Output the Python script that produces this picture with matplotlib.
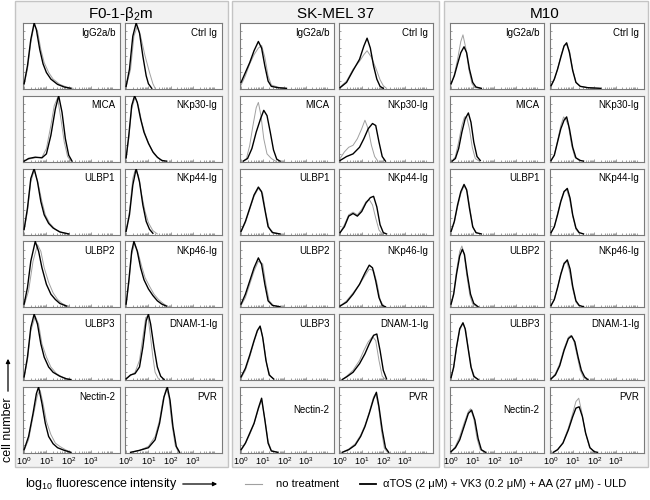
import matplotlib
matplotlib.use('Agg')
import matplotlib.pyplot as plt
from matplotlib.patches import Rectangle, FancyArrowPatch
from matplotlib.lines import Line2D
from matplotlib.ticker import FixedLocator, NullFormatter

plt.rcParams['font.family'] = ['Liberation Sans', 'DejaVu Sans']
plt.rcParams['mathtext.fontset'] = 'custom'
plt.rcParams['mathtext.rm'] = 'Liberation Sans'
plt.rcParams['mathtext.it'] = 'Liberation Sans:italic'

# ---------------- data ----------------
panel_titles = ["F0-1-β$_2$m", "SK-MEL 37", "M10"]
marker_labels = ["IgG2a/b", "Ctrl Ig", "MICA", "NKp30-Ig", "ULBP1", "NKp44-Ig",
                 "ULBP2", "NKp46-Ig", "ULBP3", "DNAM-1-Ig", "Nectin-2", "PVR"]
tick_labels = ["$10^{0}$", "$10^{1}$", "$10^{2}$", "$10^{3}$"]
tick_values = [1, 10, 100, 1000]
legend_labels = ["no treatment", "αTOS (2 μM) + VK3 (0.2 μM) + AA (27 μM) - ULD"]

# each curve: list of (log10 fluorescence, relative cell number)
F01_untreated = [
    [(0,0.06),(0.15,0.3),(0.3,0.7),(0.45,0.97),(0.6,0.88),(0.75,0.6),(0.9,0.4),(1.1,0.25),(1.3,0.15),(1.6,0.07),(1.9,0.03),(2.2,0.01)],
    [(0,0.03),(0.2,0.3),(0.35,0.8),(0.5,0.95),(0.65,0.8),(0.85,0.5),(1.05,0.25),(1.2,0.08),(1.3,0.01)],
    [(0,0.01),(0.2,0.04),(0.5,0.06),(0.8,0.07),(1.0,0.2),(1.2,0.55),(1.35,0.85),(1.5,0.97),(1.65,0.65),(1.8,0.3),(1.95,0.08),(2.1,0.01)],
    [(0,0.05),(0.12,0.35),(0.25,0.8),(0.4,0.98),(0.55,0.85),(0.7,0.6),(0.85,0.42),(1.05,0.25),(1.25,0.12),(1.45,0.05),(1.7,0.01)],
    [(0,0.06),(0.15,0.35),(0.3,0.8),(0.45,0.97),(0.6,0.82),(0.8,0.5),(0.95,0.3),(1.15,0.17),(1.4,0.08),(1.7,0.03),(2.0,0.01)],
    [(0,0.05),(0.15,0.35),(0.3,0.85),(0.4,0.97),(0.55,0.9),(0.7,0.6),(0.85,0.35),(1.0,0.18),(1.2,0.06),(1.4,0.01)],
    [(0,0.03),(0.2,0.25),(0.4,0.7),(0.6,0.95),(0.75,0.85),(0.9,0.6),(1.1,0.38),(1.3,0.22),(1.5,0.12),(1.7,0.06),(2.0,0.01)],
    [(0,0.04),(0.12,0.35),(0.25,0.8),(0.38,0.97),(0.52,0.85),(0.7,0.62),(0.85,0.45),(1.05,0.32),(1.25,0.2),(1.45,0.12),(1.7,0.05),(1.9,0.01)],
    [(0,0.04),(0.15,0.3),(0.3,0.75),(0.5,0.97),(0.65,0.85),(0.8,0.55),(1.0,0.35),(1.2,0.2),(1.45,0.1),(1.7,0.05),(2.0,0.01)],
    [(0,0.02),(0.2,0.07),(0.4,0.12),(0.6,0.3),(0.75,0.65),(0.88,0.95),(0.98,0.97),(1.08,0.7),(1.2,0.35),(1.3,0.12),(1.45,0.02)],
    [(0,0.04),(0.2,0.2),(0.4,0.55),(0.6,0.88),(0.72,0.95),(0.85,0.75),(1.0,0.48),(1.2,0.28),(1.4,0.15),(1.6,0.1),(1.85,0.05),(2.1,0.01)],
    [(0.2,0.01),(0.6,0.04),(1.0,0.1),(1.3,0.25),(1.5,0.5),(1.65,0.8),(1.8,0.98),(1.92,0.85),(2.05,0.45),(2.2,0.12),(2.35,0.01)],
]
F01_treated = [
    [(0,0.08),(0.15,0.35),(0.3,0.75),(0.45,1.0),(0.55,0.9),(0.7,0.6),(0.85,0.38),(1.0,0.25),(1.2,0.15),(1.5,0.07),(1.8,0.03),(2.1,0.01)],
    [(0,0.04),(0.15,0.3),(0.3,0.8),(0.45,1.0),(0.6,0.85),(0.75,0.5),(0.9,0.2),(1.0,0.08),(1.15,0.01)],
    [(0,0.01),(0.2,0.05),(0.5,0.07),(0.8,0.06),(1.0,0.12),(1.2,0.4),(1.4,0.8),(1.55,1.0),(1.7,0.75),(1.85,0.35),(2.0,0.1),(2.15,0.01)],
    [(0,0.06),(0.12,0.4),(0.25,0.85),(0.38,1.0),(0.5,0.9),(0.65,0.65),(0.8,0.45),(1.0,0.28),(1.2,0.15),(1.4,0.07),(1.6,0.02),(1.8,0.01)],
    [(0,0.08),(0.15,0.4),(0.3,0.85),(0.45,1.0),(0.6,0.8),(0.75,0.5),(0.9,0.3),(1.1,0.17),(1.3,0.1),(1.6,0.04),(2.0,0.01)],
    [(0,0.05),(0.15,0.3),(0.3,0.75),(0.45,1.0),(0.6,0.8),(0.75,0.45),(0.9,0.2),(1.05,0.08),(1.2,0.02)],
    [(0,0.05),(0.15,0.3),(0.3,0.7),(0.5,1.0),(0.65,0.85),(0.8,0.6),(1.0,0.35),(1.2,0.2),(1.4,0.12),(1.6,0.06),(1.9,0.02)],
    [(0,0.05),(0.12,0.4),(0.25,0.85),(0.35,1.0),(0.5,0.85),(0.65,0.6),(0.8,0.42),(1.0,0.28),(1.2,0.18),(1.4,0.1),(1.6,0.05),(1.8,0.02)],
    [(0,0.05),(0.15,0.35),(0.3,0.8),(0.45,1.0),(0.6,0.85),(0.75,0.55),(0.9,0.35),(1.1,0.2),(1.3,0.12),(1.6,0.06),(1.9,0.02),(2.1,0.01)],
    [(0,0.02),(0.2,0.08),(0.4,0.1),(0.6,0.2),(0.75,0.5),(0.9,0.9),(1.0,1.0),(1.1,0.85),(1.25,0.5),(1.4,0.2),(1.55,0.06),(1.7,0.01)],
    [(0,0.05),(0.2,0.25),(0.4,0.6),(0.55,0.9),(0.65,1.0),(0.8,0.75),(0.95,0.45),(1.1,0.25),(1.3,0.14),(1.5,0.08),(1.8,0.04),(2.1,0.01)],
    [(0.2,0.01),(0.6,0.04),(1.0,0.08),(1.3,0.2),(1.5,0.45),(1.7,0.85),(1.85,1.0),(1.97,0.8),(2.1,0.4),(2.25,0.1),(2.4,0.01)],
]
SKMEL_untreated = [
    [(0,0.06),(0.2,0.2),(0.4,0.38),(0.6,0.52),(0.8,0.62),(0.95,0.66),(1.1,0.48),(1.25,0.2),(1.4,0.06),(1.8,0.02),(2.1,0.01)],
    [(0,0.03),(0.3,0.12),(0.6,0.3),(0.9,0.42),(1.1,0.52),(1.25,0.58),(1.45,0.48),(1.65,0.32),(1.85,0.14),(2.0,0.05),(2.15,0.01)],
    [(0.1,0.01),(0.25,0.05),(0.4,0.25),(0.55,0.55),(0.7,0.82),(0.8,0.9),(0.92,0.7),(1.05,0.35),(1.2,0.12),(1.4,0.05),(1.6,0.01)],
    [(0,0.05),(0.2,0.15),(0.4,0.22),(0.6,0.25),(0.8,0.35),(1.0,0.5),(1.15,0.63),(1.3,0.5),(1.45,0.25),(1.6,0.08),(1.75,0.01)],
    [(0,0.04),(0.2,0.18),(0.4,0.38),(0.6,0.58),(0.8,0.7),(1.0,0.62),(1.15,0.32),(1.3,0.1),(1.5,0.03),(1.8,0.01)],
    [(0,0.03),(0.2,0.15),(0.4,0.3),(0.6,0.34),(0.8,0.3),(1.0,0.38),(1.2,0.5),(1.35,0.53),(1.5,0.45),(1.65,0.25),(1.8,0.07),(1.95,0.01)],
    [(0,0.03),(0.2,0.15),(0.4,0.35),(0.6,0.55),(0.8,0.7),(1.0,0.66),(1.15,0.35),(1.3,0.1),(1.5,0.03),(1.8,0.01)],
    [(0,0.02),(0.3,0.1),(0.6,0.22),(0.9,0.35),(1.15,0.48),(1.35,0.58),(1.55,0.56),(1.7,0.38),(1.85,0.12),(2.0,0.02)],
    [(0,0.03),(0.2,0.15),(0.4,0.35),(0.6,0.58),(0.8,0.78),(0.92,0.78),(1.05,0.55),(1.2,0.22),(1.35,0.06),(1.55,0.01)],
    [(0.1,0.01),(0.3,0.06),(0.6,0.15),(0.9,0.3),(1.1,0.45),(1.3,0.58),(1.5,0.66),(1.65,0.6),(1.8,0.3),(1.95,0.06),(2.1,0.01)],
    [(0,0.04),(0.2,0.14),(0.4,0.28),(0.6,0.44),(0.8,0.66),(0.95,0.8),(1.1,0.52),(1.25,0.18),(1.4,0.04),(1.7,0.01)],
    [(0.1,0.01),(0.4,0.06),(0.7,0.14),(0.95,0.27),(1.15,0.42),(1.35,0.62),(1.55,0.85),(1.65,0.9),(1.78,0.7),(1.92,0.33),(2.05,0.07),(2.2,0.01)],
]
SKMEL_treated = [
    [(0,0.1),(0.2,0.25),(0.4,0.4),(0.6,0.58),(0.8,0.72),(0.95,0.62),(1.1,0.35),(1.25,0.12),(1.4,0.04),(1.7,0.02),(2.1,0.01)],
    [(0,0.02),(0.3,0.1),(0.6,0.28),(0.9,0.45),(1.1,0.65),(1.25,0.77),(1.4,0.62),(1.55,0.35),(1.7,0.15),(1.85,0.04),(2.0,0.01)],
    [(0.1,0.01),(0.3,0.05),(0.5,0.2),(0.7,0.45),(0.9,0.65),(1.05,0.78),(1.2,0.7),(1.35,0.45),(1.5,0.18),(1.65,0.04),(1.8,0.01)],
    [(0,0.02),(0.3,0.08),(0.6,0.12),(0.9,0.22),(1.1,0.35),(1.3,0.5),(1.5,0.58),(1.65,0.55),(1.8,0.3),(1.95,0.08),(2.1,0.01)],
    [(0,0.05),(0.2,0.2),(0.4,0.4),(0.6,0.6),(0.8,0.72),(0.95,0.65),(1.1,0.38),(1.25,0.12),(1.45,0.03),(1.8,0.01)],
    [(0,0.03),(0.2,0.12),(0.4,0.28),(0.6,0.32),(0.8,0.28),(1.0,0.35),(1.2,0.48),(1.4,0.56),(1.55,0.58),(1.7,0.42),(1.85,0.15),(2.0,0.03),(2.15,0.01)],
    [(0,0.05),(0.2,0.2),(0.4,0.4),(0.6,0.6),(0.8,0.75),(0.95,0.65),(1.1,0.35),(1.25,0.1),(1.45,0.03),(1.8,0.01)],
    [(0,0.02),(0.3,0.08),(0.6,0.2),(0.9,0.35),(1.15,0.52),(1.35,0.64),(1.5,0.6),(1.65,0.4),(1.8,0.15),(1.95,0.03),(2.1,0.01)],
    [(0,0.05),(0.2,0.18),(0.4,0.38),(0.6,0.6),(0.75,0.75),(0.88,0.82),(1.0,0.65),(1.15,0.3),(1.3,0.08),(1.5,0.02)],
    [(0.1,0.01),(0.3,0.05),(0.6,0.12),(0.9,0.25),(1.15,0.4),(1.35,0.55),(1.55,0.68),(1.7,0.7),(1.85,0.45),(2.0,0.15),(2.15,0.02)],
    [(0,0.05),(0.2,0.15),(0.4,0.3),(0.6,0.45),(0.8,0.68),(0.95,0.83),(1.1,0.5),(1.25,0.15),(1.4,0.03),(1.7,0.01)],
    [(0.1,0.01),(0.4,0.05),(0.7,0.12),(0.95,0.25),(1.15,0.4),(1.35,0.6),(1.55,0.82),(1.68,0.92),(1.8,0.7),(1.95,0.35),(2.1,0.08),(2.25,0.01)],
]
M10_untreated = [
    [(0,0.06),(0.15,0.22),(0.3,0.45),(0.45,0.72),(0.55,0.82),(0.68,0.62),(0.82,0.3),(0.97,0.08),(1.1,0.02),(1.4,0.01)],
    [(0,0.04),(0.15,0.14),(0.3,0.3),(0.45,0.5),(0.6,0.66),(0.7,0.68),(0.85,0.58),(1.0,0.3),(1.15,0.1),(1.35,0.04),(1.7,0.02),(2.2,0.01)],
    [(0.05,0.01),(0.2,0.08),(0.35,0.3),(0.5,0.55),(0.62,0.68),(0.72,0.68),(0.85,0.5),(0.98,0.22),(1.12,0.05),(1.3,0.01)],
    [(0,0.02),(0.15,0.1),(0.3,0.32),(0.45,0.55),(0.58,0.68),(0.68,0.64),(0.8,0.55),(0.95,0.25),(1.1,0.07),(1.3,0.02)],
    [(0,0.04),(0.15,0.18),(0.3,0.42),(0.45,0.62),(0.6,0.74),(0.75,0.65),(0.88,0.38),(1.02,0.1),(1.2,0.02)],
    [(0,0.03),(0.15,0.12),(0.3,0.32),(0.45,0.52),(0.6,0.66),(0.72,0.68),(0.85,0.55),(1.0,0.28),(1.15,0.08),(1.3,0.02)],
    [(0,0.05),(0.12,0.22),(0.25,0.55),(0.4,0.85),(0.5,0.93),(0.6,0.82),(0.72,0.5),(0.87,0.18),(1.0,0.05),(1.2,0.01)],
    [(0,0.03),(0.15,0.12),(0.3,0.3),(0.45,0.52),(0.6,0.68),(0.72,0.7),(0.85,0.55),(1.0,0.28),(1.15,0.08),(1.3,0.02)],
    [(0,0.04),(0.12,0.18),(0.25,0.48),(0.4,0.76),(0.55,0.86),(0.68,0.76),(0.8,0.48),(0.95,0.18),(1.1,0.04),(1.3,0.01)],
    [(0,0.02),(0.2,0.1),(0.4,0.25),(0.6,0.48),(0.8,0.65),(0.92,0.68),(1.05,0.6),(1.2,0.38),(1.35,0.15),(1.5,0.04),(1.65,0.01)],
    [(0,0.02),(0.2,0.1),(0.4,0.25),(0.6,0.45),(0.8,0.63),(0.9,0.67),(1.05,0.52),(1.2,0.22),(1.35,0.05),(1.55,0.01)],
    [(0.1,0.01),(0.3,0.05),(0.55,0.16),(0.8,0.38),(1.0,0.6),(1.15,0.78),(1.28,0.83),(1.42,0.62),(1.58,0.32),(1.78,0.08),(2.0,0.02)],
]
M10_treated = [
    [(0,0.08),(0.15,0.2),(0.3,0.38),(0.45,0.55),(0.6,0.64),(0.72,0.55),(0.85,0.3),(1.0,0.1),(1.15,0.03),(1.4,0.01)],
    [(0,0.05),(0.15,0.15),(0.3,0.3),(0.45,0.48),(0.6,0.65),(0.72,0.7),(0.85,0.55),(1.0,0.28),(1.15,0.1),(1.35,0.04),(1.7,0.02),(2.3,0.01)],
    [(0.05,0.01),(0.2,0.05),(0.35,0.2),(0.5,0.45),(0.65,0.65),(0.8,0.74),(0.92,0.6),(1.05,0.3),(1.2,0.08),(1.35,0.02)],
    [(0,0.02),(0.15,0.1),(0.3,0.3),(0.45,0.5),(0.6,0.63),(0.72,0.68),(0.85,0.5),(1.0,0.22),(1.15,0.06),(1.35,0.02),(1.5,0.01)],
    [(0,0.05),(0.15,0.2),(0.3,0.45),(0.45,0.65),(0.6,0.76),(0.72,0.68),(0.85,0.4),(1.0,0.12),(1.15,0.03),(1.4,0.01)],
    [(0,0.03),(0.15,0.12),(0.3,0.3),(0.45,0.5),(0.6,0.65),(0.75,0.7),(0.88,0.55),(1.0,0.3),(1.15,0.1),(1.3,0.03),(1.5,0.01)],
    [(0,0.05),(0.12,0.2),(0.25,0.5),(0.4,0.78),(0.52,0.88),(0.62,0.8),(0.75,0.5),(0.9,0.2),(1.05,0.06),(1.25,0.01)],
    [(0,0.03),(0.15,0.12),(0.3,0.3),(0.45,0.5),(0.6,0.66),(0.75,0.72),(0.88,0.58),(1.0,0.32),(1.15,0.1),(1.3,0.03),(1.5,0.01)],
    [(0,0.04),(0.12,0.2),(0.25,0.5),(0.4,0.78),(0.55,0.87),(0.65,0.78),(0.78,0.5),(0.92,0.2),(1.05,0.06),(1.25,0.01)],
    [(0,0.02),(0.2,0.08),(0.4,0.22),(0.6,0.45),(0.8,0.63),(0.95,0.67),(1.1,0.58),(1.25,0.35),(1.4,0.15),(1.55,0.05),(1.7,0.01)],
    [(0,0.02),(0.2,0.08),(0.4,0.2),(0.6,0.4),(0.8,0.6),(0.95,0.65),(1.1,0.5),(1.25,0.22),(1.4,0.05),(1.6,0.01)],
    [(0.1,0.01),(0.3,0.05),(0.55,0.15),(0.8,0.35),(1.0,0.55),(1.15,0.68),(1.3,0.7),(1.45,0.55),(1.6,0.3),(1.8,0.08),(2.0,0.02),(2.15,0.01)],
]
panel_untreated = [F01_untreated, SKMEL_untreated, M10_untreated]
panel_treated = [F01_treated, SKMEL_treated, M10_treated]

# ---------------- layout ----------------
W, H = 650, 500
fig = plt.figure(figsize=(6.5, 5), dpi=100)

def fig_rect(x0, y0, w, h):
    return [x0 / W, 1 - (y0 + h) / H, w / W, h / H]

panel_bounds = [(15, 228), (232, 439), (444, 648)]
panel_top, panel_bot = 1, 467
for (l, r) in panel_bounds:
    fig.add_artist(Rectangle((l / W, 1 - panel_bot / H), (r - l) / W, (panel_bot - panel_top) / H,
                             transform=fig.transFigure, facecolor='#f2f2f2',
                             edgecolor='#c4c4c4', lw=1.0, zorder=0))

col_x = [[23, 125], [240, 339], [450, 550]]
col_w = [97, 94, 94]
title_x = [121, 336, 545]
row_top0, row_pitch, ax_h = 23, 72.8, 66

gray_col = '#a0a0a0'
spine_col = '#7a7a7a'
minor_ticks = [m * 10 ** d for d in range(0, 5) for m in range(2, 10)]

for p in range(3):
    fig.text(title_x[p] / W, 1 - 14 / H, panel_titles[p], ha='center', va='center', fontsize=11)
    for i in range(12):
        r, c = divmod(i, 2)
        ax = fig.add_axes(fig_rect(col_x[p][c], row_top0 + r * row_pitch, col_w[p], ax_h))
        ax.set_xscale('log')
        g = panel_untreated[p][i]
        b = panel_treated[p][i]
        ax.plot([10 ** v[0] for v in g], [v[1] for v in g], color=gray_col, lw=0.7, zorder=2)
        ax.plot([10 ** v[0] for v in b], [v[1] for v in b], color='black', lw=1.0, zorder=3)
        ax.set_xlim(10 ** -0.05, 10 ** 4.3)
        ax.set_ylim(0, 1.0)
        for s in ax.spines.values():
            s.set_color(spine_col)
            s.set_linewidth(0.8)
        ax.xaxis.set_major_locator(FixedLocator(tick_values))
        ax.xaxis.set_minor_locator(FixedLocator(minor_ticks))
        ax.xaxis.set_minor_formatter(NullFormatter())
        ax.yaxis.set_major_locator(FixedLocator([k / 8 for k in range(9)]))
        ax.set_yticklabels([])
        ax.tick_params(axis='both', which='both', direction='in', color=spine_col, width=0.5)
        ax.tick_params(axis='x', which='major', length=2.5, pad=1.5, labelsize=6.5)
        ax.tick_params(axis='x', which='minor', length=1.2)
        ax.tick_params(axis='y', which='major', length=1.5)
        if r == 5:
            ax.set_xticklabels(tick_labels)
        else:
            ax.set_xticklabels([])
        lab_y = 0.93
        if marker_labels[i] == "Nectin-2" and p > 0:
            lab_y = 0.73
        ax.text(0.95, lab_y, marker_labels[i], transform=ax.transAxes, ha='right', va='top', fontsize=7)

# axis titles
fig.text(25 / W, 1 - 484 / H, "log$_{10}$ fluorescence intensity", ha='left', va='center', fontsize=9)
fig.add_artist(FancyArrowPatch((180 / W, 1 - 484 / H), (220 / W, 1 - 484 / H), transform=fig.transFigure,
                               arrowstyle='-|>', mutation_scale=6, lw=0.9, color='black'))
fig.text(8 / W, 1 - 430 / H, "cell number", rotation=90, ha='center', va='center', fontsize=9)
fig.add_artist(FancyArrowPatch((8 / W, 1 - 394 / H), (8 / W, 1 - 356 / H), transform=fig.transFigure,
                               arrowstyle='-|>', mutation_scale=6, lw=0.9, color='black'))

# legend
fig.add_artist(Line2D([245 / W, 262 / W], [1 - 484 / H, 1 - 484 / H], transform=fig.transFigure,
                      color=gray_col, lw=0.8))
fig.text(276 / W, 1 - 484 / H, legend_labels[0], ha='left', va='center', fontsize=8)
fig.add_artist(Line2D([360 / W, 376 / W], [1 - 484 / H, 1 - 484 / H], transform=fig.transFigure,
                      color='black', lw=1.3))
fig.text(383 / W, 1 - 484 / H, legend_labels[1], ha='left', va='center', fontsize=8)

fig.savefig('out.png', dpi=100)
